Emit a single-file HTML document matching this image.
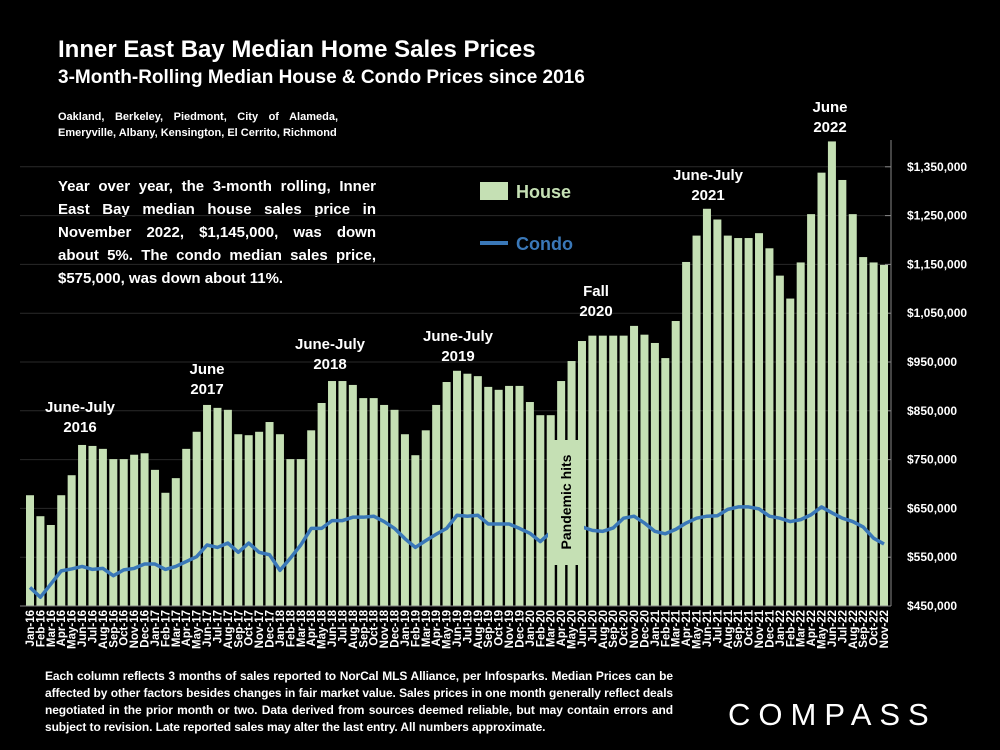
<!DOCTYPE html>
<html><head><meta charset="utf-8"><style>
body{margin:0;background:#000;width:1000px;height:750px;overflow:hidden;font-family:"Liberation Sans",sans-serif;color:#fff}
svg{position:absolute;left:0;top:0}
.t{position:absolute;font-weight:bold}
</style></head><body>
<div class="t" style="left:58px;top:36px;font-size:24px">Inner East Bay Median Home Sales Prices</div>
<div class="t" style="left:58px;top:67px;font-size:19px">3-Month-Rolling Median House &amp; Condo Prices since 2016</div>
<div class="t" style="left:58px;top:109px;width:280px;font-size:11px;line-height:16px;text-align:justify;text-align-last:left">Oakland, Berkeley, Piedmont, City of Alameda, Emeryville, Albany, Kensington, El Cerrito, Richmond</div>
<div class="t" style="left:58px;top:175px;width:318px;font-size:15px;line-height:23px;text-align:justify">Year over year, the 3-month rolling, Inner East Bay median house sales price in November 2022, $1,145,000, was down about 5%. The condo median sales price, $575,000, was down about 11%.</div>
<div class="t" style="left:45px;top:668px;width:628px;font-size:12px;line-height:17px;text-align:justify;letter-spacing:-0.1px">Each column reflects 3 months of sales reported to NorCal MLS Alliance, per Infosparks. Median Prices can be affected by other factors besides changes in fair market value. Sales prices in one month generally reflect deals negotiated in the prior month or two. Data derived from sources deemed reliable, but may contain errors and subject to revision. Late reported sales may alter the last entry. All numbers approximate.</div>
<div class="t" style="left:728px;top:697px;font-size:31px;font-weight:normal;letter-spacing:8px">COMPASS</div>
<svg id="c" width="1000" height="750"></svg>
<script>
const months=["Jan","Feb","Mar","Apr","May","Jun","Jul","Aug","Sep","Oct","Nov","Dec"];
const categories=[];
for(let y=16;y<=22;y++)for(let m=0;m<12;m++){if(y===22&&m>10)break;categories.push(months[m]+"-"+y);}
const houseValues=[677,634,616,677,718,780,778,772,751,751,760,763,729,682,712,772,807,862,856,852,802,800,807,827,802,751,751,810,866,911,911,903,876,876,862,852,802,759,810,862,909,932,926,921,899,893,901,901,868,841,841,911,952,993,1004,1004,1004,1004,1024,1006,989,958,1034,1155,1209,1264,1242,1209,1204,1204,1214,1183,1127,1080,1154,1253,1338,1402,1323,1253,1165,1154,1149];
const condoValues=[488,468,495,522,526,531,525,527,512,524,527,536,536,525,531,541,551,575,570,579,560,579,560,555,523,548,575,609,609,625,625,632,632,634,623,609,588,570,584,597,609,636,634,636,618,618,618,609,599,582,601,615,628,612,605,603,610,630,634,620,603,598,607,620,630,634,635,648,653,653,649,634,630,623,627,637,653,641,630,623,612,589,577];
const tickValues=[450,550,650,750,850,950,1050,1150,1250,1350];
const svg=document.getElementById('c');const NS='http://www.w3.org/2000/svg';
function el(t,a){const e=document.createElementNS(NS,t);for(const k in a)e.setAttribute(k,a[k]);svg.appendChild(e);return e;}
const y=v=>606-(v-450)*0.488;
const x=i=>30+i*(854/82);
tickValues.forEach(v=>{const g=el('line',{x1:20,x2:891,y1:y(v),y2:y(v),stroke:'#2a2a2a','stroke-width':1});


const tk=el('line',{x1:885,x2:891,y1:y(v),y2:y(v),stroke:'#888'});


const t=el('text',{x:907,y:y(v)+4,fill:'#fff','font-size':12,'font-weight':'bold','font-family':'Liberation Sans'});
t.textContent='$'+(v*1000).toLocaleString('en-US');

});
const ax=el('line',{x1:891,x2:891,y1:140,y2:606,stroke:'#888'});


categories.forEach((c,i)=>{const b=el('rect',{x:x(i)-4,y:y(houseValues[i]),width:8,height:606-y(houseValues[i]),fill:'#c5e0b4'});


const t=el('text',{transform:`translate(${x(i)+4},610) rotate(-90)`,'text-anchor':'end',fill:'#fff','font-size':11.5,'font-weight':'bold','font-family':'Liberation Sans'});
t.textContent=c;

});
const bl=el('line',{x1:20,x2:891,y1:606,y2:606,stroke:'#888'});


const ln=el('polyline',{points:condoValues.map((v,i)=>x(i)+','+y(v)).join(' '),fill:'none',stroke:'#3a78b8','stroke-width':3.5,'stroke-linejoin':'round'});


const pb=el('rect',{x:548,y:440,width:36,height:125,fill:'#c5e0b4'});


const pt=el('text',{transform:'translate(571,502) rotate(-90)','text-anchor':'middle',fill:'#000','font-size':14,'font-weight':'bold','font-family':'Liberation Sans'});
pt.textContent='Pandemic hits';


const ann=[["June-July","2016",80,412],["June","2017",207,374],["June-July","2018",330,349],["June-July","2019",458,341],["Fall","2020",596,296],["June-July","2021",708,180],["June","2022",830,112]];
ann.forEach(a=>{[a[0],a[1]].forEach((s,k)=>{const t=el('text',{x:a[2],y:a[3]+k*20,'text-anchor':'middle',fill:'#fff','font-size':15,'font-weight':'bold','font-family':'Liberation Sans'});t.textContent=s;

});});
const lh=el('rect',{x:480,y:182,width:28,height:18,fill:'#c5e0b4'});


const lht=el('text',{x:516,y:198,fill:'#c5e0b4','font-size':18,'font-weight':'bold','font-family':'Liberation Sans'});lht.textContent='House';


const lc=el('line',{x1:480,x2:508,y1:243,y2:243,stroke:'#3a78b8','stroke-width':4});


const lct=el('text',{x:516,y:250,fill:'#3a78b8','font-size':18,'font-weight':'bold','font-family':'Liberation Sans'});lct.textContent='Condo';


</script>
</body></html>
